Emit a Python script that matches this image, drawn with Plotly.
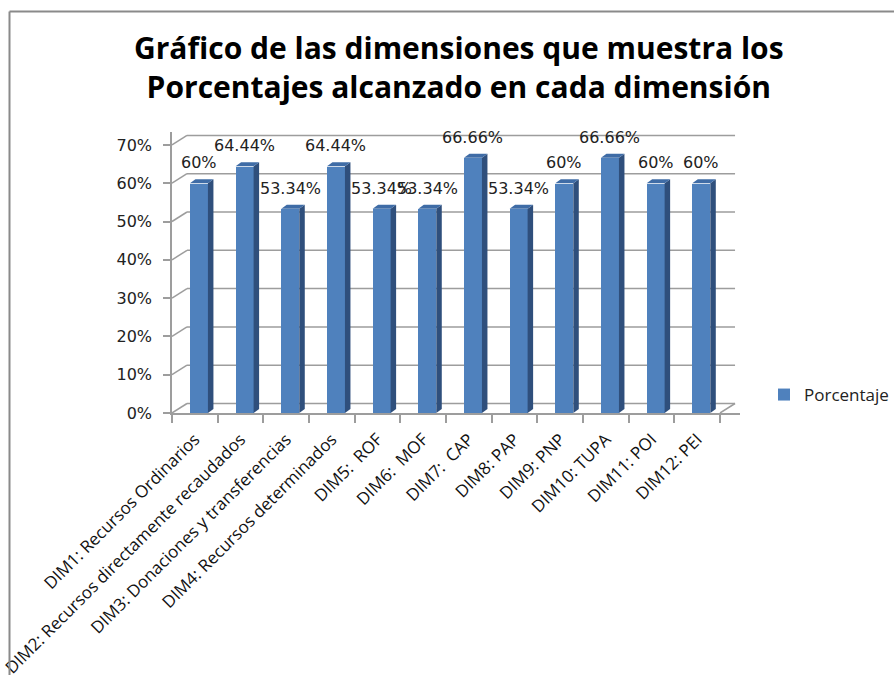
import plotly.graph_objects as go

# Dimension labels and the percentage reached in each one
categorias = [
    "DIM1: Recursos Ordinarios",
    "DIM2: Recursos directamente recaudados",
    "DIM3: Donaciones y transferencias",
    "DIM4: Recursos determinados",
    "DIM5:  ROF",
    "DIM6:  MOF",
    "DIM7:  CAP",
    "DIM8: PAP",
    "DIM9: PNP",
    "DIM10: TUPA",
    "DIM11: POI",
    "DIM12: PEI",
]
porcentaje = [60, 64.44, 53.34, 64.44, 53.34, 53.34, 66.66, 53.34, 60, 66.66, 60, 60]
etiquetas = ["60%", "64.44%", "53.34%", "64.44%", "53.34%", "53.34%",
             "66.66%", "53.34%", "60%", "66.66%", "60%", "60%"]
ticks_y = [0, 10, 20, 30, 40, 50, 60, 70]
ticks_y_text = ["0%", "10%", "20%", "30%", "40%", "50%", "60%", "70%"]

W, H = 894, 675
# front plane in pixels
X0_PX, X1_PX = 172, 740
Y0_PX, Y1_PX = 413, 131.5
PX_PER_CAT = 45.67
PX_PER_PCT = 3.83
X_RANGE = [-0.5, -0.5 + (X1_PX - X0_PX) / PX_PER_CAT]
Y_RANGE = [0, (Y0_PX - Y1_PX) / PX_PER_PCT]

# depth of the walls (back plane offset) and of the columns
WALL_DX = 15 / PX_PER_CAT
WALL_DY = 9.5 / PX_PER_PCT
BAR_DX = 5.5 / PX_PER_CAT
BAR_DY = 4 / PX_PER_PCT
BAR_SHIFT = 4.1 / PX_PER_CAT
BAR_W = 18 / PX_PER_CAT

FRONT = "#4f81bd"
SIDE = "#2f4f7c"
TOP = "#3f6ca6"
GRID = "#9d9d9d"

n = len(categorias)
xs = [i + BAR_SHIFT for i in range(n)]

fig = go.Figure()

shapes = []
# side wall diagonals and back-wall gridlines
left = -0.5
right = n - 0.5
for v in ticks_y:
    shapes.append(dict(type="line", xref="x", yref="y", x0=left, y0=v,
                       x1=left + WALL_DX, y1=v + WALL_DY,
                       line=dict(color=GRID, width=1.5), layer="below"))
    shapes.append(dict(type="line", xref="x", yref="y", x0=left + WALL_DX, y0=v + WALL_DY,
                       x1=right + WALL_DX, y1=v + WALL_DY,
                       line=dict(color=GRID, width=1.5), layer="below"))
# floor right edge
shapes.append(dict(type="line", xref="x", yref="y", x0=right, y0=0,
                   x1=right + WALL_DX, y1=WALL_DY,
                   line=dict(color=GRID, width=1.5), layer="below"))

# column side faces and caps
for x, v in zip(xs, porcentaje):
    xr = x + BAR_W / 2
    xl = x - BAR_W / 2
    shapes.append(dict(type="path", xref="x", yref="y",
                       path=f"M{xr},0 L{xr + BAR_DX},{BAR_DY} L{xr + BAR_DX},{v + BAR_DY} L{xr},{v} Z",
                       fillcolor=SIDE, line=dict(width=0), layer="above"))
    shapes.append(dict(type="path", xref="x", yref="y",
                       path=f"M{xl},{v} L{xl + BAR_DX},{v + BAR_DY} L{xr + BAR_DX},{v + BAR_DY} L{xr},{v} Z",
                       fillcolor=TOP, line=dict(width=0), layer="above"))

# chart border (left and top edges)
shapes.append(dict(type="line", xref="paper", yref="paper", x0=9.5 / W, y0=0,
                   x1=9.5 / W, y1=1 - 11.5 / H, line=dict(color="#8a8a8a", width=2)))
shapes.append(dict(type="line", xref="paper", yref="paper", x0=9.5 / W, y0=1 - 11.5 / H,
                   x1=1, y1=1 - 11.5 / H, line=dict(color="#8a8a8a", width=2)))

fig.add_trace(go.Bar(
    x=xs, y=porcentaje, width=BAR_W, name="Porcentaje",
    marker=dict(color=FRONT, line=dict(width=0)),
    hoverinfo="skip",
))

annotations = []
for x, v, t in zip(xs, porcentaje, etiquetas):
    annotations.append(dict(x=x, y=v, xref="x", yref="y", text=t, showarrow=False,
                            yanchor="bottom", yshift=9,
                            font=dict(family="DejaVu Sans", size=16, color="#222222")))

annotations.append(dict(
    x=459 / W, y=1 - 25 / H, xref="paper", yref="paper", xanchor="center", yanchor="top",
    text="<b>Gráfico de las dimensiones que muestra los<br>Porcentajes alcanzado en cada dimensión</b>",
    showarrow=False, align="center",
    font=dict(family="Open Sans", size=30, color="#000000"),
))

fig.update_layout(
    width=W, height=H,
    margin=dict(l=0, r=0, t=0, b=0),
    paper_bgcolor="white", plot_bgcolor="rgba(0,0,0,0)",
    showlegend=True,
    legend=dict(x=764 / W, y=1 - 395 / H, xanchor="left", yanchor="middle",
                font=dict(family="Open Sans", size=17, color="#222222"),
                bgcolor="rgba(0,0,0,0)"),
    shapes=shapes,
    annotations=annotations,
    bargap=0,
    xaxis=dict(
        domain=[X0_PX / W, X1_PX / W], range=X_RANGE, automargin=False,
        tickmode="array", tickvals=list(range(n)), ticktext=categorias,
        tickangle=-45, ticks="", showgrid=False, zeroline=False,
        ticklabelstandoff=8, ticklabeloverflow="allow",
        showline=True, linecolor=GRID, linewidth=1.5,
        tickfont=dict(family="Open Sans", size=17, color="#111111"),
        minor=dict(tickmode="array", tickvals=[i - 0.5 for i in range(n + 1)],
                   ticks="outside", ticklen=8, tickcolor=GRID, tickwidth=1.5, showgrid=False),
        fixedrange=True,
    ),
    yaxis=dict(
        domain=[1 - Y0_PX / H, 1 - Y1_PX / H], range=Y_RANGE, automargin=False,
        tickmode="array", tickvals=ticks_y, ticktext=ticks_y_text,
        ticks="outside", ticklen=7, tickcolor=GRID, tickwidth=1.5,
        ticklabelstandoff=8,
        showgrid=False, zeroline=False,
        showline=True, linecolor=GRID, linewidth=1.5,
        tickfont=dict(family="DejaVu Sans", size=16, color="#222222"),
        fixedrange=True,
    ),
)

fig.write_html("out.html")
